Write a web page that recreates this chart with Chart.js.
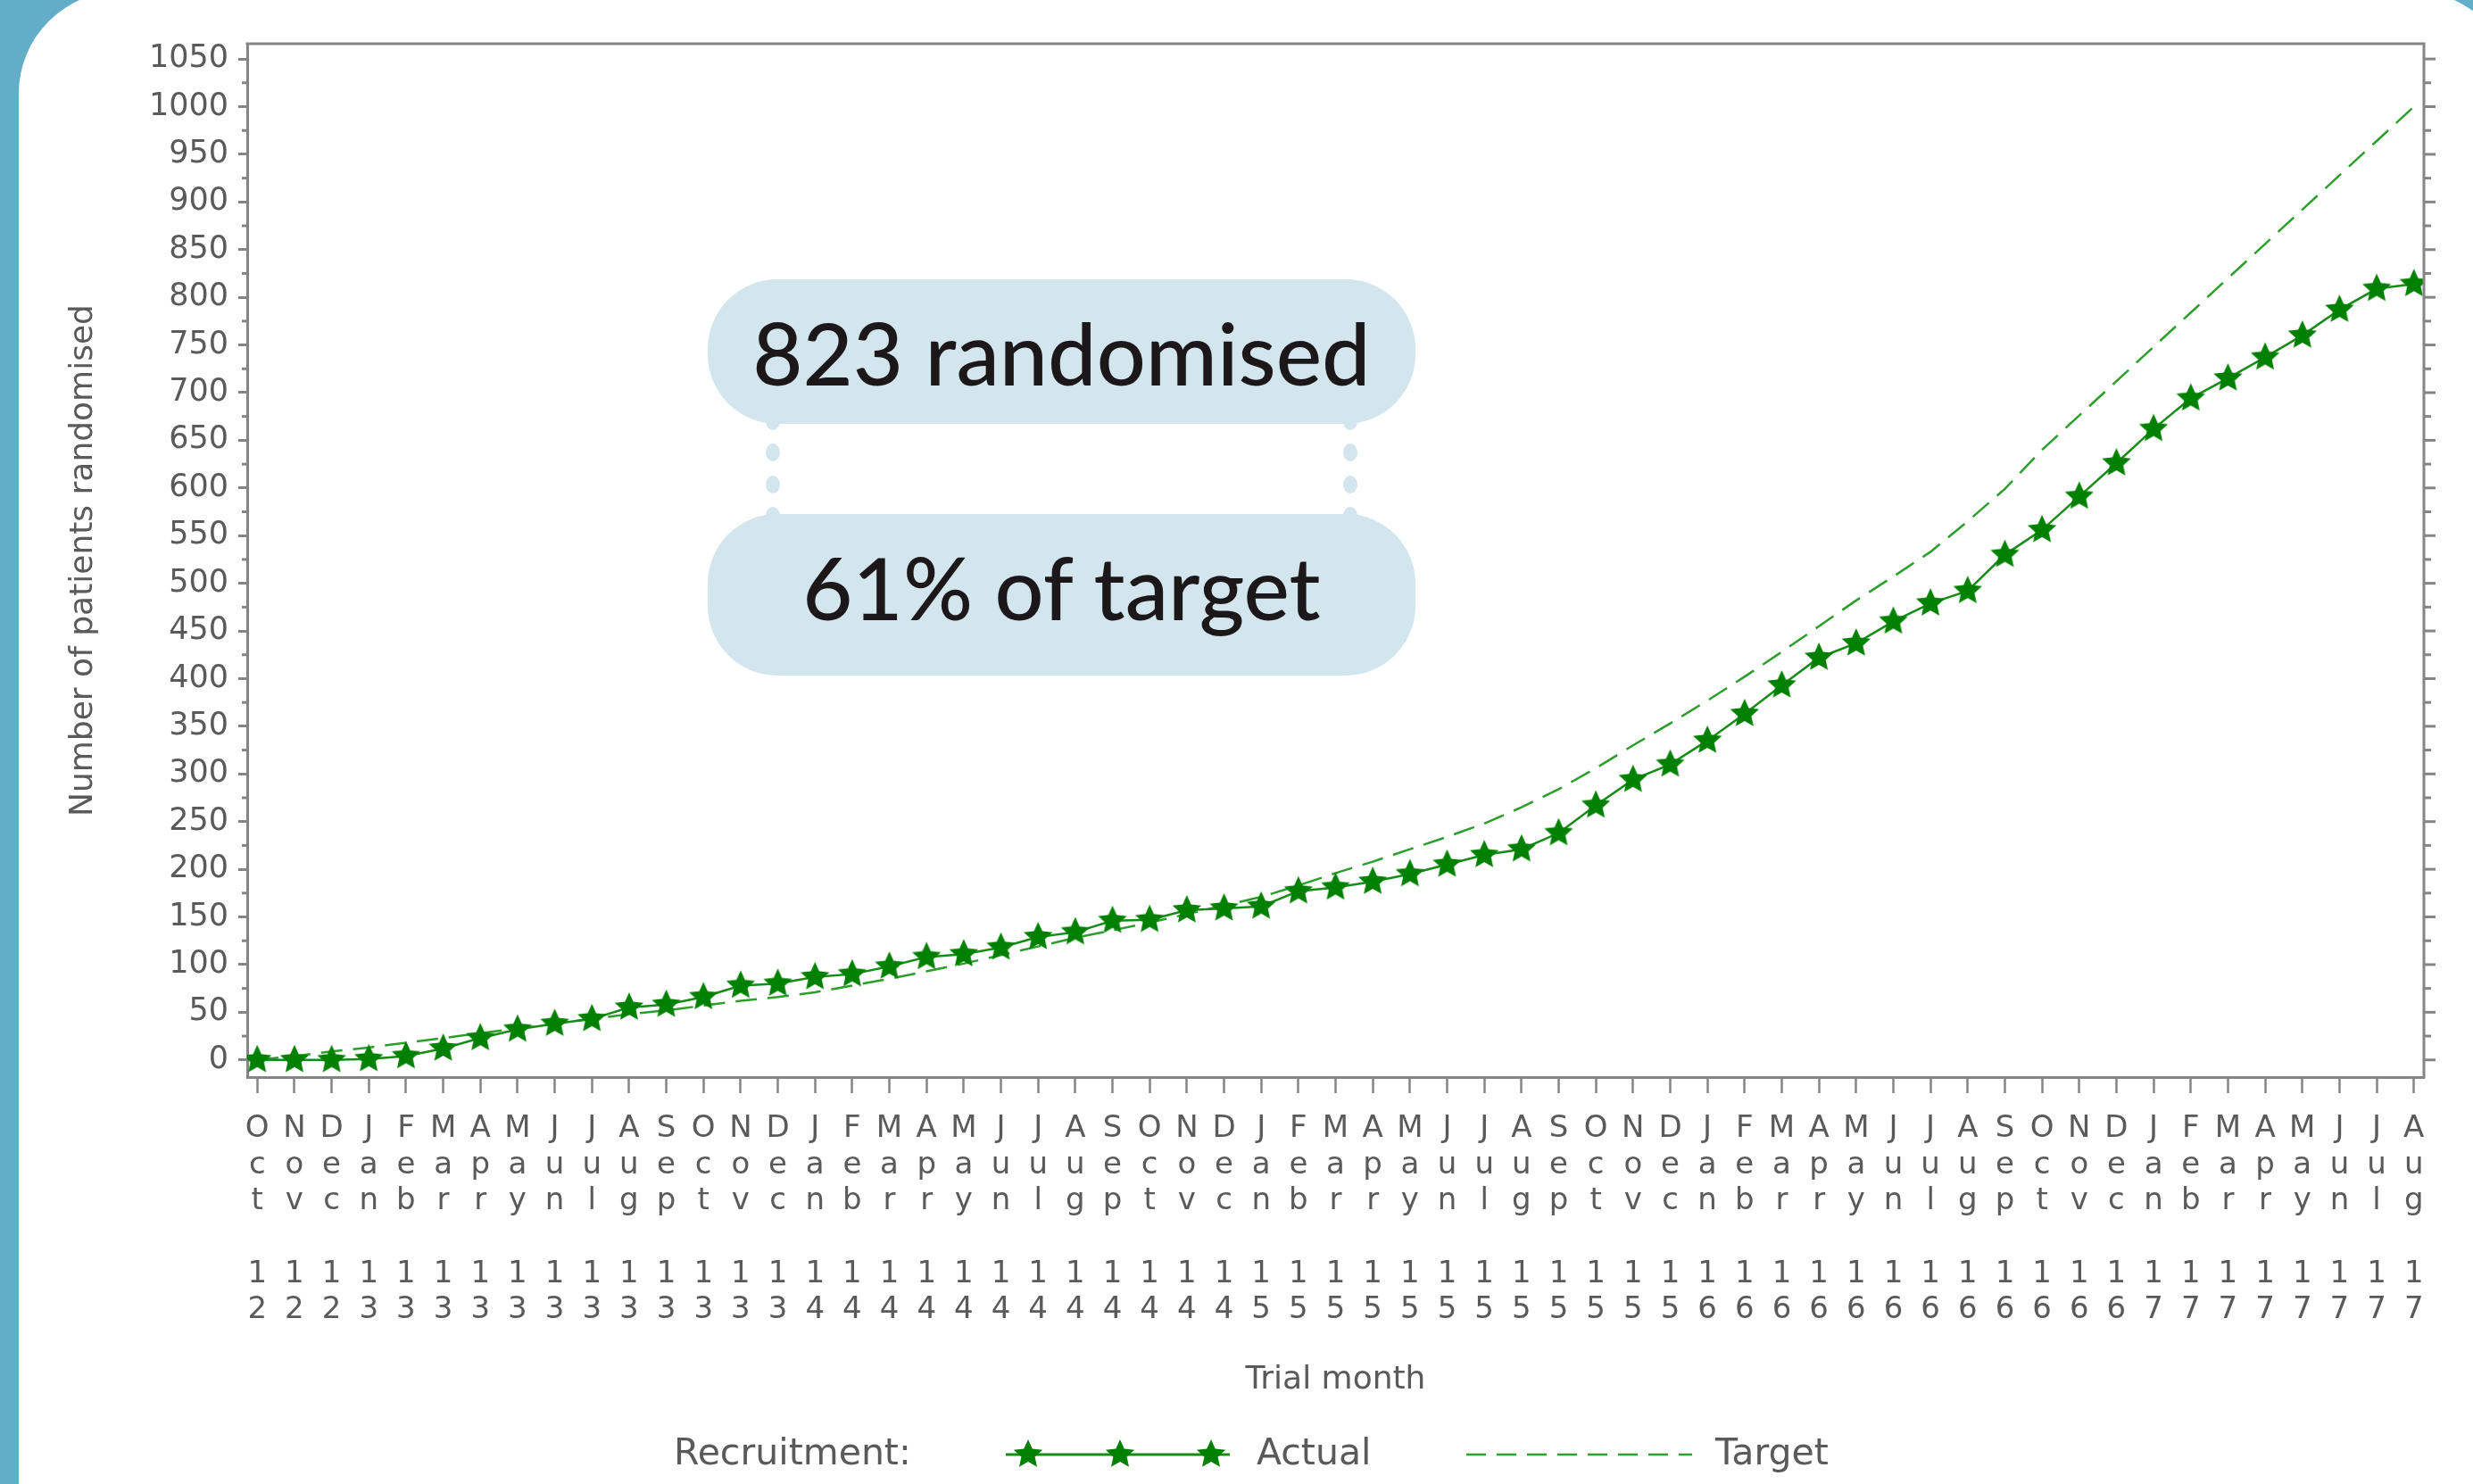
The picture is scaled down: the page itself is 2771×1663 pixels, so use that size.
<!DOCTYPE html>
<html>
<head>
<meta charset="utf-8">
<script src="https://cdn.jsdelivr.net/npm/chart.js@4/dist/chart.umd.min.js"></script>
<style>
  html, body { margin:0; padding:0; }
  body { width:2771px; height:1663px; overflow:hidden; position:relative; background:#62adc7; }
  #frame { position:absolute; left:21px; top:-10px; width:2797px; height:2200px; background:#fff; border-radius:115px; }
  #c { position:absolute; left:0; top:0; }
  .box { position:absolute; left:793px; width:793px; background:#d3e5ed; border-radius:78px;
         font-family:'Lato', 'Open Sans', sans-serif; font-size:97px; font-weight:500; line-height:1.2; color:#1c1819;
         text-align:center; box-sizing:border-box; padding-top:24px; white-space:nowrap; }
  .dot { position:absolute; width:16px; height:20px; border-radius:50%; background:#d3e5ed; }
</style>
</head>
<body>
<div id="frame"></div>
<canvas id="c" width="2771" height="1663"></canvas>
<div class="dot" style="left:858px; top:462px"></div>
<div class="dot" style="left:858px; top:497px"></div>
<div class="dot" style="left:858px; top:533px"></div>
<div class="dot" style="left:858px; top:568px"></div>
<div class="dot" style="left:1505px; top:462px"></div>
<div class="dot" style="left:1505px; top:497px"></div>
<div class="dot" style="left:1505px; top:533px"></div>
<div class="dot" style="left:1505px; top:568px"></div>
<div class="box" style="top:313px; height:162px;">823 randomised</div>
<div class="box" style="top:576px; height:181px;">61% of target</div>
<script>
// ---- data ----
const monthLabels = ['Oct','Nov','Dec',
  'Jan','Feb','Mar','Apr','May','Jun','Jul','Aug','Sep','Oct','Nov','Dec',
  'Jan','Feb','Mar','Apr','May','Jun','Jul','Aug','Sep','Oct','Nov','Dec',
  'Jan','Feb','Mar','Apr','May','Jun','Jul','Aug','Sep','Oct','Nov','Dec',
  'Jan','Feb','Mar','Apr','May','Jun','Jul','Aug','Sep','Oct','Nov','Dec',
  'Jan','Feb','Mar','Apr','May','Jun','Jul','Aug'];
const yearLabels = ['12','12','12',
  '13','13','13','13','13','13','13','13','13','13','13','13',
  '14','14','14','14','14','14','14','14','14','14','14','14',
  '15','15','15','15','15','15','15','15','15','15','15','15',
  '16','16','16','16','16','16','16','16','16','16','16','16',
  '17','17','17','17','17','17','17','17'];
const actual = [0,0,0,1,4,12,23,32,38,43,
  55,58,66,78,80,87,90,98,108,111,
  118,129,134,146,147,157,159,161,177,181,
  187,195,205,215,221,238,267,294,310,335,
  363,393,422,437,460,479,492,530,556,591,
  626,662,694,715,737,760,787,809,814];
const target = [0,4,9,13,18,23,28,33,38,43,
  48,52,57,62,66,71,78,85,93,101,
  110,119,128,136,144,153,162,171,183,196,
  208,221,234,248,265,284,306,330,353,377,
  402,428,455,482,507,533,565,599,640,676,
  712,748,784,820,856,892,928,964,1000];
const yTicks = [0,50,100,150,200,250,300,350,400,450,500,550,600,650,700,750,800,850,900,950,1000,1050];
const seriesNames = ['Actual','Target'];

// ---- styles ----
const GREEN = '#008000';
const LINE_ACTUAL = '#168c16';
const LINE_TARGET = '#2c9e2c';
const AXIS = '#858585';
const TEXT = '#5a5a5a';
const FONT = "'DejaVu Sans', sans-serif";

function makeStar(R, r, color) {
  const s = Math.ceil(2 * R + 2);
  const c = document.createElement('canvas');
  c.width = s; c.height = s;
  const g = c.getContext('2d');
  g.translate(s / 2, s / 2);
  g.beginPath();
  for (let i = 0; i < 10; i++) {
    const rad = i % 2 === 0 ? R : r;
    const a = -Math.PI / 2 + i * Math.PI / 5;
    const px = rad * Math.cos(a), py = rad * Math.sin(a);
    if (i === 0) g.moveTo(px, py); else g.lineTo(px, py);
  }
  g.closePath();
  g.fillStyle = color;
  g.fill();
  return c;
}
const star = makeStar(17, 8, GREEN);

const framePlugin = {
  id: 'framePlugin',
  afterDraw(chart) {
    const { ctx, chartArea: a } = chart;
    const y = chart.scales.y;
    ctx.save();
    ctx.strokeStyle = AXIS;
    ctx.lineWidth = 3;
    ctx.beginPath();
    ctx.moveTo(a.left - 1.5, a.top);
    ctx.lineTo(a.right, a.top);
    ctx.lineTo(a.right, a.bottom + 1.5);
    ctx.stroke();
    for (let i = 0; i < yTicks.length; i++) {
      const v = yTicks[i];
      const p = y.getPixelForValue(v);
      ctx.beginPath(); ctx.moveTo(a.right, p); ctx.lineTo(a.right + 13, p); ctx.stroke();
      if (i < yTicks.length - 1) {
        const m = y.getPixelForValue((v + yTicks[i + 1]) / 2);
        ctx.beginPath(); ctx.moveTo(a.left - 6, m); ctx.lineTo(a.left, m); ctx.stroke();
        ctx.beginPath(); ctx.moveTo(a.right, m); ctx.lineTo(a.right + 8, m); ctx.stroke();
      }
    }
    // legend
    const ly = 1630;
    ctx.font = '41px ' + FONT;
    ctx.fillStyle = TEXT;
    ctx.textBaseline = 'middle';
    ctx.textAlign = 'left';
    ctx.fillText('Recruitment:', 755, ly);
    ctx.strokeStyle = LINE_ACTUAL;
    ctx.lineWidth = 3;
    ctx.beginPath(); ctx.moveTo(1127, ly); ctx.lineTo(1378, ly); ctx.stroke();
    [1152, 1255, 1357].forEach(x => ctx.drawImage(star, x - star.width / 2, ly - star.height / 2));
    ctx.fillText(seriesNames[0], 1408, ly);
    ctx.strokeStyle = LINE_TARGET;
    ctx.lineWidth = 2.5;
    ctx.setLineDash([22, 12]);
    ctx.beginPath(); ctx.moveTo(1643, ly); ctx.lineTo(1896, ly); ctx.stroke();
    ctx.setLineDash([]);
    ctx.fillText(seriesNames[1], 1922, ly);
    ctx.restore();
  }
};

new Chart(document.getElementById('c'), {
  type: 'line',
  data: {
    datasets: [
      {
        label: seriesNames[0],
        data: actual.map((v, i) => ({ x: i, y: v })),
        borderColor: LINE_ACTUAL,
        borderWidth: 2.5,
        pointStyle: star,
        pointRadius: 17,
        pointHoverRadius: 17,
        tension: 0,
        fill: false
      },
      {
        label: seriesNames[1],
        data: target.map((v, i) => ({ x: i, y: v })),
        borderColor: LINE_TARGET,
        borderWidth: 2.5,
        borderDash: [24, 12],
        pointRadius: 0,
        tension: 0,
        fill: false
      }
    ]
  },
  options: {
    responsive: false,
    animation: false,
    devicePixelRatio: 1,
    layout: { padding: { left: 0, top: 49, right: 55, bottom: 93 } },
    plugins: { legend: { display: false }, tooltip: { enabled: false } },
    scales: {
      x: {
        type: 'linear',
        min: -0.27,
        max: 58.27,
        afterBuildTicks: s => { s.ticks = monthLabels.map((_, i) => ({ value: i })); },
        afterFit: s => { s.height = 363; },
        ticks: {
          autoSkip: false, maxRotation: 0, minRotation: 0, padding: 20,
          color: TEXT,
          font: { family: FONT, size: 34, lineHeight: 1.196 },
          callback: v => {
            const i = Math.round(v);
            return [...monthLabels[i].split(''), '', ...yearLabels[i].split('')];
          }
        },
        grid: { drawOnChartArea: false, drawTicks: true, tickLength: 18, tickWidth: 2.5, tickColor: AXIS },
        border: { display: true, color: AXIS, width: 3 },
        title: { display: true, text: 'Trial month', color: TEXT,
                 font: { family: FONT, size: 36 }, padding: { top: 0, bottom: 2 } }
      },
      y: {
        type: 'linear',
        min: -18,
        max: 1066,
        afterBuildTicks: s => { s.ticks = yTicks.map(v => ({ value: v })); },
        afterFit: s => { s.width = 277; },
        ticks: { color: TEXT, padding: 11, font: { family: FONT, size: 35 },
                 callback: v => String(v) },
        grid: { drawOnChartArea: false, drawTicks: true, tickLength: 10, tickWidth: 3, tickColor: AXIS },
        border: { display: true, color: AXIS, width: 3 },
        title: { display: true, text: 'Number of patients randomised', color: TEXT,
                 font: { family: FONT, size: 36 }, padding: { top: 72, bottom: 0 } }
      }
    }
  },
  plugins: [framePlugin]
});
</script>
</body>
</html>
